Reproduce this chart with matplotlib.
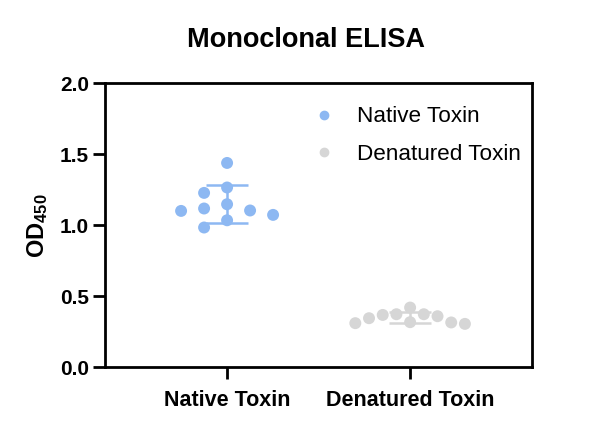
import numpy as np
import matplotlib
matplotlib.use('Agg')
import matplotlib.pyplot as plt
from matplotlib.lines import Line2D

plt.rcParams['font.family'] = ['Liberation Sans', 'DejaVu Sans']
plt.rcParams['mathtext.fontset'] = 'custom'
plt.rcParams['mathtext.rm'] = 'Liberation Sans'
plt.rcParams['mathtext.bf'] = 'Liberation Sans:bold'

# data
groups = ['Native Toxin', 'Denatured Toxin']
native = [1.439, 1.266, 1.228, 1.148, 1.118, 1.104, 1.101, 1.073, 1.035, 0.984]
denatured = [0.420, 0.373, 0.373, 0.368, 0.359, 0.345, 0.317, 0.315, 0.310, 0.305]
colors = ['#8DB8F2', '#D6D6D6']

fig = plt.figure(figsize=(6, 4.34), dpi=100)
ax = fig.add_axes([0.175, 0.154, 0.712, 0.654])
ax.set_xlim(-0.667, 1.667)
ax.set_ylim(0, 2.0)


def swarm(vals, xc, step_px, diam_px):
    # simple beeswarm: try centre, then left/right in fixed steps
    trans = ax.transData
    placed = []
    xs = []
    order = [0]
    for i in range(1, 20):
        order += [-i, i]
    for v in vals:
        for k in order:
            px, py = trans.transform((xc, v))
            px += k * step_px
            ok = all((px - qx) ** 2 + (py - qy) ** 2 >= diam_px ** 2 for qx, qy in placed)
            if ok:
                placed.append((px, py))
                xs.append(trans.inverted().transform((px, py))[0])
                break
    return xs


for i, (vals, c) in enumerate(zip([native, denatured], colors)):
    step = 23 if i == 0 else 13.7
    xs = swarm(vals, i, step, 12.5)
    ax.scatter(xs, vals, s=74, color=c, edgecolors='none', zorder=3)
    m = np.mean(vals)
    sd = np.std(vals, ddof=1)
    ax.errorbar(i, m, yerr=sd, fmt='none', ecolor=c, elinewidth=1.8,
                capsize=15, capthick=1.8, zorder=2)

for s in ax.spines.values():
    s.set_linewidth(2)
ax.set_xticks([0, 1])
ax.set_xticklabels(groups, fontsize=15.5, fontweight='bold')
ax.set_yticks([0, 0.5, 1.0, 1.5, 2.0])
ax.set_yticklabels(['0.0', '0.5', '1.0', '1.5', '2.0'], fontsize=15, fontweight='bold')
ax.tick_params(axis='both', length=8.5, width=2, pad=3)
ax.tick_params(axis='x', pad=8)
ax.set_ylabel(r'$\mathbf{OD_{450}}$', fontsize=17, labelpad=7)

handles = [Line2D([], [], marker='o', ls='none', color=c, markersize=6) for c in colors]
ax.legend(handles, groups, loc='upper right', bbox_to_anchor=(1.02, 0.99), frameon=False,
          fontsize=16.2, labelspacing=0.75, handletextpad=0.45)

fig.text(0.51, 0.908, 'Monoclonal ELISA', ha='center', va='center',
         fontsize=19.5, fontweight='bold')

plt.savefig('out.png', dpi=100)
